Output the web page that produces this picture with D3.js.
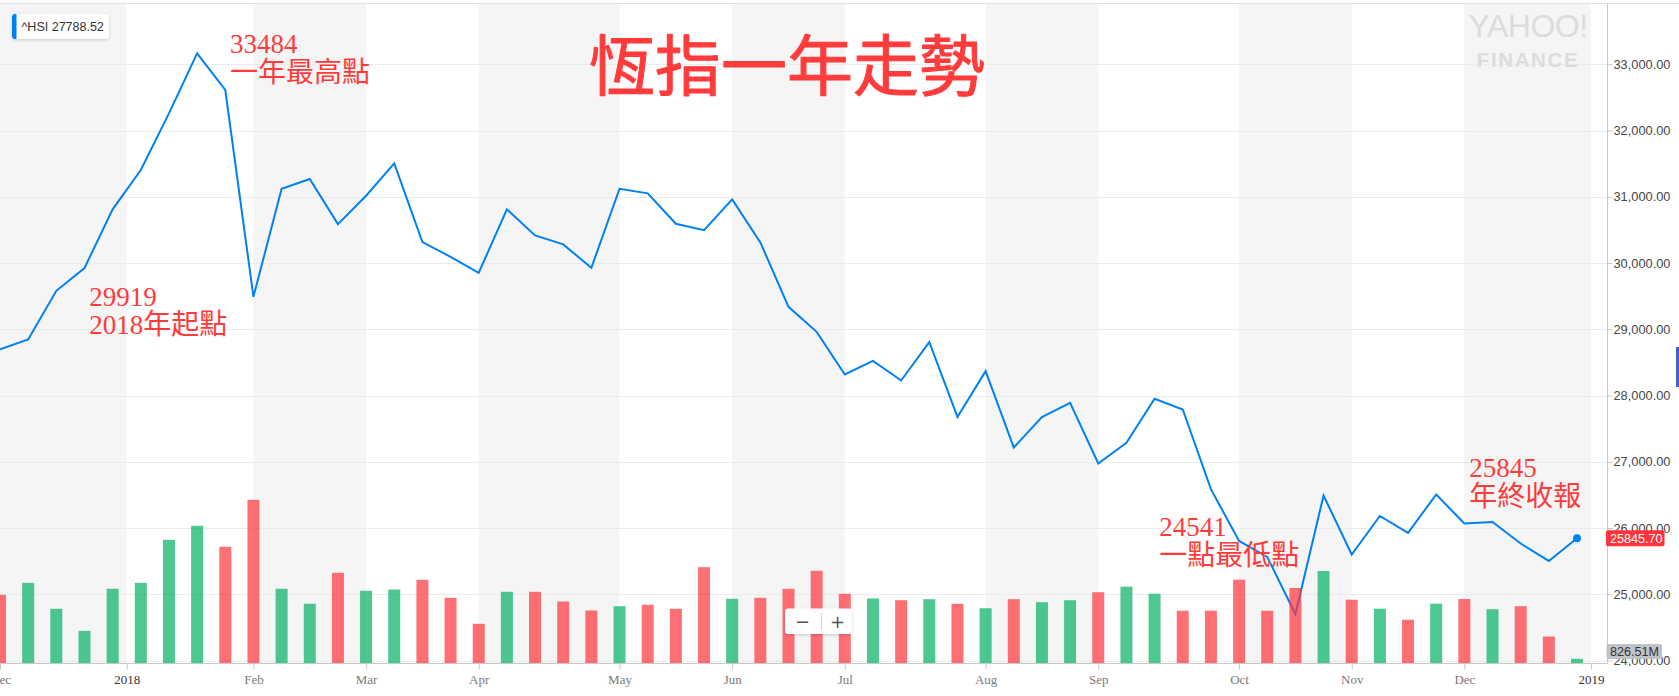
<!DOCTYPE html>
<html>
<head>
<meta charset="utf-8">
<script src="https://cdn.jsdelivr.net/npm/d3@7"></script>
<style>
  body { margin: 0; background: #fff; }
  svg { display: block; }
</style>
</head>
<body>
<div id="chart"></div>
<script>
// HSI weekly closes, late Nov 2017 -> end of Dec 2018 (one point per week)
const closes = [
  28696, 28847, 29581, 29924, 30810, 31404, 32260, 33166, 32612, 29490,
  31121, 31268, 30588, 31016, 31505, 30316, 30094, 29853, 30810, 30417,
  30281, 29928, 31121, 31052, 30593, 30497, 30961, 30312, 29339, 28961,
  28318, 28523, 28227, 28806, 27677, 28368, 27215, 27673, 27889, 26974,
  27285, 27950, 27789, 26586, 25805, 25564, 24698, 26491, 25600, 26182,
  25926, 26506, 26068, 26092, 25766, 25503, 25845.70
];
const priorClose = 29866; // close of the week before the first point

// weekly volume, millions of shares
const volumes = [
  12090, 14200, 9630, 5750, 13150, 14200, 21770, 24240, 20540, 28810,
  13150, 10510, 15960, 12800, 13020, 14730, 11560, 6990, 12620, 12620,
  10910, 9330, 10080, 10330, 9630, 16950, 11390, 11560, 13150, 16320,
  12270, 11440, 11140, 11320, 10510, 9730, 11320, 10790, 11140, 12550,
  13520, 12280, 9290, 9290, 14750, 9290, 13290, 16280, 11230, 9640,
  7710, 10520, 11350, 9560, 10080, 4750, 826.51
];

// month ticks, placed on the week index
const tickIdx    = [0, 4.5, 9, 13, 17, 22, 26, 30, 35, 39, 44, 48, 52, 56.5];
const tickLabels = ["Dec", "2018", "Feb", "Mar", "Apr", "May", "Jun", "Jul", "Aug", "Sep", "Oct", "Nov", "Dec", "2019"];

const priceTicks = d3.range(24000, 33001, 1000);

// annotations: [value label, caption, week index]
const notes = [
  ["33484", "一年最高點", 7],
  ["29919", "2018年起點", 3],
  ["24541", "一點最低點", 46],
  ["25845", "年終收報", 56]
];

const title = "恆指一年走勢";
const legendText = "^HSI 27788.52";

// -------------------------------------------------------------------------
const W = 1679, H = 696;
const plotRight = 1607.5, plotTop = 3.5, axisY = 663.5;
const red = "#ff333a", green = "#00b061", blue = "#0081f2", noteRed = "#ff3b3b";
const sans = "'Liberation Sans', Arial, sans-serif";

const x = d3.scaleLinear().domain([0, closes.length - 1]).range([0, 1577]);
const y = d3.scaleLinear().domain([24000, 33000]).range([660.5, 64.3]);
const yVol = d3.scaleLinear().domain([0, 30000]).range([axisY, axisY - 30000 / 176]);

const svg = d3.select("#chart").append("svg")
  .attr("width", W).attr("height", H)
  .attr("viewBox", [0, 0, W, H]);

const defs = svg.append("defs");
const shadow = defs.append("filter").attr("id", "shadow")
  .attr("x", "-20%").attr("y", "-40%").attr("width", "140%").attr("height", "180%");
shadow.append("feDropShadow").attr("dx", 0).attr("dy", 1)
  .attr("stdDeviation", 1.5).attr("flood-color", "#000").attr("flood-opacity", 0.18);

// alternating month bands
const bands = [];
for (let k = 0; k < tickIdx.length - 1; k += 2) bands.push([tickIdx[k], tickIdx[k + 1]]);
svg.append("g").selectAll("rect").data(bands).join("rect")
  .attr("x", (d) => Math.max(0, x(d[0])))
  .attr("width", (d) => Math.min(plotRight, x(d[1])) - Math.max(0, x(d[0])))
  .attr("y", plotTop).attr("height", axisY - plotTop)
  .attr("fill", "#f5f5f5");

// top border
svg.append("line").attr("x1", 0).attr("x2", W).attr("y1", plotTop).attr("y2", plotTop)
  .attr("stroke", "#e2e2e2");

// gridlines
svg.append("g").selectAll("line").data(priceTicks).join("line")
  .attr("x1", 0).attr("x2", plotRight)
  .attr("y1", (d) => Math.round(y(d)) + 0.5).attr("y2", (d) => Math.round(y(d)) + 0.5)
  .attr("stroke", "#ebebeb");

// watermark
const wm = svg.append("g").attr("fill", "#dcdcdc").attr("text-anchor", "middle")
  .attr("font-family", sans);
wm.append("text").attr("x", 1528).attr("y", 37).attr("font-size", 32)
  .attr("letter-spacing", -0.5).text("YAHOO!");
wm.append("text").attr("x", 1528).attr("y", 66.5).attr("font-size", 20.5)
  .attr("font-weight", "bold").attr("letter-spacing", 1.6).text("FINANCE");

// price line
svg.append("path").datum(closes)
  .attr("fill", "none").attr("stroke", blue).attr("stroke-width", 2)
  .attr("d", d3.line().x((d, i) => x(i)).y((d) => y(d)));

// volume bars (drawn over the line, semi-transparent)
svg.append("g").selectAll("rect").data(volumes).join("rect")
  .attr("x", (d, i) => x(i) - 6).attr("width", 12)
  .attr("y", (d) => yVol(d)).attr("height", (d) => axisY - yVol(d))
  .attr("fill", (d, i) => closes[i] >= (i ? closes[i - 1] : priorClose) ? green : red)
  .attr("fill-opacity", 0.7);

// last point
const last = closes.length - 1;
svg.append("circle").attr("cx", x(last)).attr("cy", y(closes[last])).attr("r", 4)
  .attr("fill", blue);

// axes
svg.append("line").attr("x1", plotRight).attr("x2", plotRight).attr("y1", plotTop).attr("y2", axisY)
  .attr("stroke", "#c8c8c8");
svg.append("line").attr("x1", 0).attr("x2", plotRight).attr("y1", axisY).attr("y2", axisY)
  .attr("stroke", "#c8c8c8");

const yAxis = svg.append("g").attr("transform", `translate(${plotRight},0)`)
  .call(d3.axisRight(y).tickValues(priceTicks).tickFormat(d3.format(",.2f"))
    .tickSize(5).tickPadding(1));
yAxis.select(".domain").remove();
yAxis.selectAll(".tick line").attr("stroke", "#c8c8c8");
yAxis.selectAll("text").attr("fill", "#464646").attr("font-size", 12.8)
  .attr("font-family", sans);

const xAxis = svg.append("g").attr("transform", `translate(0,${axisY})`)
  .call(d3.axisBottom(x).tickValues(tickIdx).tickFormat((d, i) => tickLabels[i])
    .tickSize(6).tickPadding(5));
xAxis.select(".domain").remove();
xAxis.selectAll(".tick line").attr("stroke", "#c8c8c8");
xAxis.selectAll("text")
  .attr("fill", (d, i) => /^\d+$/.test(tickLabels[i]) ? "#333" : "#7a7a7a")
  .attr("font-size", 13).attr("font-family", "'Liberation Serif', 'Times New Roman', serif");

// current price tag
const py = y(closes[last]);
svg.append("rect").attr("x", plotRight - 1.5).attr("y", py - 8).attr("width", 58.5).attr("height", 16)
  .attr("rx", 2).attr("fill", red);
svg.append("text").attr("x", plotRight + 2.5).attr("y", py).attr("dy", "0.35em")
  .attr("fill", "#fff").attr("font-size", 12.6).attr("font-family", sans)
  .text(d3.format(".2f")(closes[last]));

// current volume tag
const vy = Math.min(yVol(volumes[last]), axisY - 12);
svg.append("rect").attr("x", plotRight - 1).attr("y", vy - 7.5).attr("width", 55.5).attr("height", 15)
  .attr("rx", 2).attr("fill", "#bec2c9");
svg.append("text").attr("x", plotRight + 2.5).attr("y", vy).attr("dy", "0.35em")
  .attr("fill", "#333").attr("font-size", 12.6).attr("font-family", sans)
  .text(d3.format(".2f")(volumes[last]) + "M");

// zoom buttons
const zb = svg.append("g").attr("transform", "translate(785,608.5)");
zb.append("rect").attr("width", 67).attr("height", 25.5).attr("rx", 3)
  .attr("fill", "#fff").attr("filter", "url(#shadow)");
zb.append("line").attr("x1", 36.5).attr("x2", 36.5).attr("y1", 4).attr("y2", 21.5)
  .attr("stroke", "#d5d5d5");
zb.append("text").attr("x", 17.5).attr("y", 13).attr("dy", "0.35em").attr("text-anchor", "middle")
  .attr("font-size", 18).attr("fill", "#555").attr("font-family", "'DejaVu Sans', sans-serif").text("\u2212");
zb.append("text").attr("x", 52.5).attr("y", 13).attr("dy", "0.35em").attr("text-anchor", "middle")
  .attr("font-size", 18).attr("fill", "#555").attr("font-family", "'DejaVu Sans', sans-serif").text("+");

// legend chip
const lg = svg.append("g").attr("transform", "translate(12,14)");
lg.append("rect").attr("width", 97).attr("height", 25).attr("rx", 3)
  .attr("fill", "#fff").attr("filter", "url(#shadow)");
lg.append("path").attr("d", "M3,0 H4.5 V25 H3 A3,3 0 0 1 0,22 V3 A3,3 0 0 1 3,0 Z").attr("fill", blue);
lg.append("text").attr("x", 9.5).attr("y", 16.5).attr("font-size", 12.5).attr("fill", "#333")
  .attr("font-family", sans).text(legendText);

// red annotations
const notePos = {
  7:  [230, 53.3, 82],
  3:  [89.3, 306, 334],
  46: [1159.3, 536, 565.3],
  56: [1469.3, 476.7, 506.3]
};
const ng = svg.append("g").attr("fill", noteRed)
  .attr("font-family", "'Liberation Serif', 'Times New Roman', 'Noto Sans CJK TC', serif");
notes.forEach(([val, cap, idx]) => {
  const p = notePos[idx];
  ng.append("text").attr("x", p[0]).attr("y", p[1]).attr("font-size", 27).text(val);
  const t = ng.append("text").attr("x", p[0]).attr("y", p[2]);
  // digits in serif, CJK in sans
  cap.split(/(\d+)/).filter((s) => s).forEach((s) => {
    const isNum = /^\d+$/.test(s);
    t.append("tspan").attr("font-size", isNum ? 27 : 28)
      .attr("font-family", isNum ? "'Liberation Serif', serif" : "'Noto Sans CJK TC', sans-serif")
      .text(s);
  });
});

// title (a thin stroke thickens the regular weight)
svg.append("text").attr("x", 787).attr("y", 90).attr("text-anchor", "middle")
  .attr("font-size", 66).attr("fill", noteRed)
  .attr("stroke", noteRed).attr("stroke-width", 1).attr("stroke-linejoin", "round")
  .attr("font-family", "'Noto Sans CJK TC', sans-serif").text(title);

// side indicator at the right edge
svg.append("rect").attr("x", W - 3).attr("y", 347).attr("width", 3).attr("height", 40)
  .attr("fill", "#4a5ad0");
</script>
</body>
</html>
